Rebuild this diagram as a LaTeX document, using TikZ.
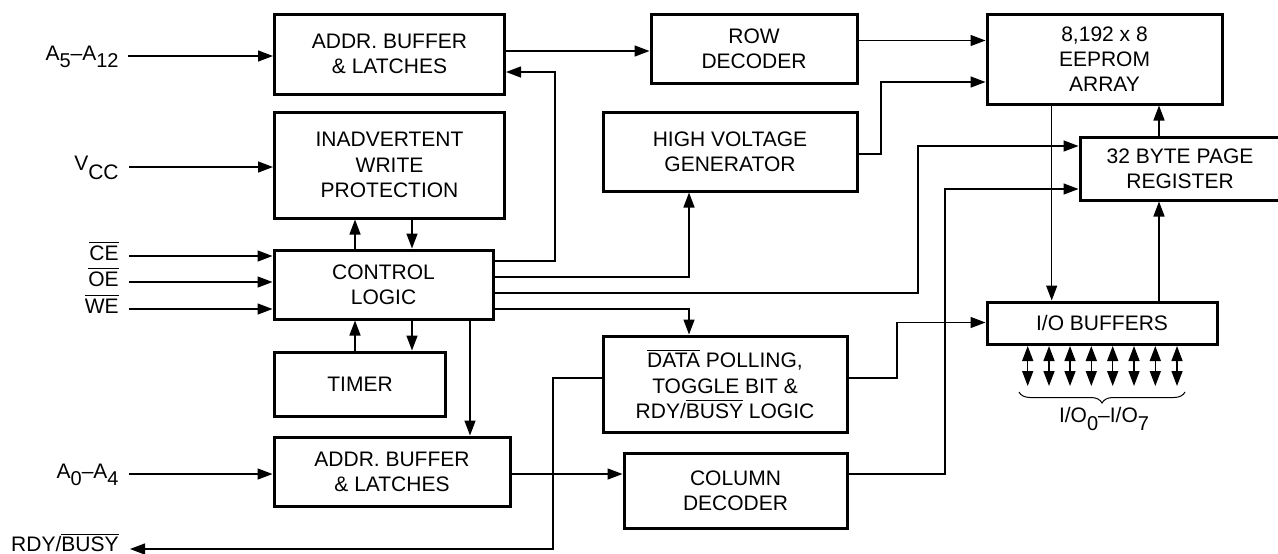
\documentclass[tikz,border=0pt]{standalone}
\usepackage{fontspec}
\setmainfont{Liberation Sans}
\usetikzlibrary{arrows.meta,decorations.pathreplacing,calc}
\newcommand{\ovl}[1]{$\overline{\mbox{#1}}$}
\newcommand{\subd}[1]{\raisebox{-3.8pt}{\fontsize{10}{10}\selectfont #1}}
\tikzset{
  x=0.5pt,y=-0.5pt,
  blockbox/.style={draw=black,line width=1.5pt,fill=white,align=center,inner sep=0pt,font=\fontsize{10.5}{12.6}\selectfont},
  conn/.style={line width=0.7pt,-{Triangle[length=7.5pt,width=5.5pt]}},
  bidir/.style={line width=0.7pt,{Triangle[length=7.5pt,width=5.5pt]}-{Triangle[length=7.5pt,width=5.5pt]}},
  sig/.style={anchor=base east,inner sep=0pt,font=\fontsize{10.5}{12.6}\selectfont},
}
\begin{document}
\begin{tikzpicture}
\useasboundingbox (0,0) rectangle (1278,553);
\node[blockbox,minimum width=115pt,minimum height=40pt] (addrA) at (389.5,54) {ADDR. BUFFER\\\& LATCHES};
\node[blockbox,minimum width=115pt,minimum height=53pt] (prot) at (389.5,165) {INADVERTENT\\WRITE\\PROTECTION};
\node[blockbox,minimum width=109.5pt,minimum height=34.5pt] (ctrl) at (383.5,284.5) {CONTROL\\LOGIC};
\node[blockbox,minimum width=85.5pt,minimum height=32pt] (timer) at (360,384) {TIMER};
\node[blockbox,minimum width=118pt,minimum height=34.5pt] (addrB) at (392,471.5) {ADDR. BUFFER\\\& LATCHES};
\node[blockbox,minimum width=103pt,minimum height=34.5pt] (row) at (754,48.5) {ROW\\DECODER};
\node[blockbox,minimum width=127pt,minimum height=39.5pt] (hv) at (730,151.5) {HIGH VOLTAGE\\GENERATOR};
\node[blockbox,minimum width=122pt,minimum height=48pt] (poll) at (725,384) {\ovl{DATA} POLLING,\\TOGGLE BIT \&\\RDY/\ovl{BUSY} LOGIC};
\node[blockbox,minimum width=111.5pt,minimum height=37.5pt] (col) at (735.5,490.5) {COLUMN\\DECODER};
\node[blockbox,minimum width=117.5pt,minimum height=45pt] (array) at (1104.5,59) {8,192 x 8\\EEPROM\\ARRAY};
\node[blockbox,minimum width=100pt,minimum height=31.5pt] (page) at (1180,168.5) {32 BYTE PAGE\\REGISTER};
\node[blockbox,minimum width=115pt,minimum height=21pt] (io) at (1102,323) {I/O BUFFERS};

% signal labels
\node[sig] (lA) at (119,60) {A\subd{5}–A\subd{12}};
\node[sig] (lV) at (119,179) {\raisebox{4.5pt}{V}CC};
\node[sig] (lCE) at (119,260) {\ovl{CE}};
\node[sig] (lOE) at (119,286) {\ovl{OE}};
\node[sig] (lWE) at (119,313) {\ovl{WE}};
\node[sig] (lB) at (119,478) {A\subd{0}–A\subd{4}};
\node[sig] (lR) at (119,551.5) {RDY/\ovl{BUSY}};
\node[inner sep=0pt,anchor=base,font=\fontsize{10.5}{12.6}\selectfont] (lIO) at (1104,422.5) {I/O\subd{0}–I/O\subd{7}};

% free ends
\coordinate (sA) at (128,56);
\coordinate (sV) at (129,167);
\coordinate (sCE) at (129,256);
\coordinate (sOE) at (129,282);
\coordinate (sWE) at (129,309);
\coordinate (sB) at (129,474);
\coordinate (sR) at (130,549);

% inputs
\draw[conn] (sA) -- (addrA.west |- sA);
\draw[conn] (sV) -- (prot.west |- sV);
\draw[conn] (sCE) -- (ctrl.west |- sCE);
\draw[conn] (sOE) -- (ctrl.west |- sOE);
\draw[conn] (sWE) -- (ctrl.west |- sWE);
\draw[conn] (sB) -- (addrB.west |- sB);

% control logic
\draw[conn] (ctrl.north -| 355,0) -- (prot.south -| 355,0);
\draw[conn] (prot.south -| 412,0) -- (ctrl.north -| 412,0);
\draw[conn] (timer.north -| 355,0) -- (ctrl.south -| 355,0);
\draw[conn] (ctrl.south -| 412,0) -- (timer.north -| 412,0);
\draw[conn] (ctrl.south -| 470,0) -- (addrB.north -| 470,0);
\draw[conn] (ctrl.east |- 0,261) -| (555,72) -- (addrA.east |- 0,72);
\draw[conn] (ctrl.east |- 0,277) -| (hv.south -| 689,0);
\draw[conn] (ctrl.east |- 0,293) -| (918,146) -- (page.west |- 0,146);
\draw[conn] (ctrl.east |- 0,309) -| (poll.north -| 689,0);

% data path
\draw[conn] (addrA.east |- 0,51) -- (row.west |- 0,51);
\draw[conn] (row.east |- 0,40.5) -- (array.west |- 0,40.5);
\draw[conn] (hv.east |- 0,154) -| (881,82) -- (array.west |- 0,82);
\draw[conn] (addrB.east |- 0,474) -- (col.west |- 0,474);
\draw[conn] (col.east |- 0,474) -| (945,189) -- (page.west |- 0,189);
\draw[conn] (poll.east |- 0,378) -| (897,322.5) -- (io.west |- 0,322.5);
\draw[conn] (poll.west |- 0,378) -| (553,549) -- (sR);
\draw[conn] (array.south -| 1051.7,0) -- (io.north -| 1051.7,0);
\draw[conn] (page.north -| 1159,0) -- (array.south -| 1159,0);
\draw[conn] (io.north -| 1159,0) -- (page.south -| 1159,0);

% I/O pins
\foreach \px in {1027.7,1049,1070,1091.3,1112.7,1134,1155.3,1177}
  \draw[bidir] (\px,346) -- (\px,386);
\draw[line width=0.5pt,decorate,decoration={brace,mirror,amplitude=5.5pt}] (1019,392) -- (1185,392);
\end{tikzpicture}
\end{document}
